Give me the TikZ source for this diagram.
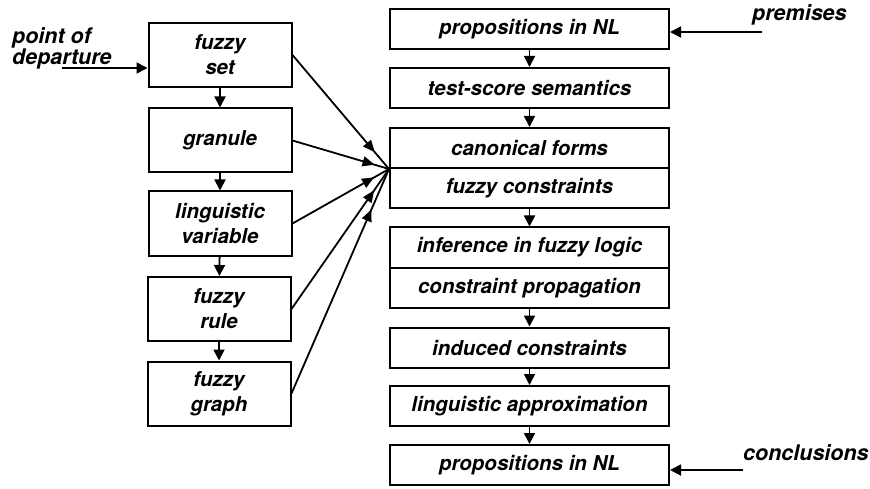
\documentclass[tikz,border=0pt]{standalone}
\usepackage{fontspec}
\setmainfont{TeX Gyre Heros}
\usetikzlibrary{arrows.meta,decorations.markings}
\tikzset{
 box/.style={draw,line width=2pt,inner sep=0pt,font=\bfseries\itshape\fontsize{20.5}{25}\selectfont,align=center},
 lbox/.style={box,minimum width=143pt,minimum height=64pt},
 rbox/.style={box,minimum width=279pt,minimum height=40pt},
 flow/.style={line width=1.8pt,-{Triangle[width=11pt,length=11pt]}},
 lab/.style={font=\bfseries\itshape\fontsize{21.5}{21}\selectfont,inner sep=0pt,align=left},
 tipat/.style={line width=1.8pt,postaction={decorate},decoration={markings,mark=at position #1 with {\arrow{Triangle[width=10pt,length=12pt]}}}}
}
\begin{document}
\begin{tikzpicture}[x=1pt,y=-1pt]
\useasboundingbox (0,0) rectangle (870,489);
% left column
\node[lbox] (fs) at (220,55) {fuzzy\\set};
\node[lbox] (gr) at (220,140.5) {granule};
\node[lbox] (lv) at (220,223.5) {linguistic\\variable};
\node[lbox] (fr) at (219,309) {fuzzy\\rule};
\node[lbox] (fg) at (219,393.5) {fuzzy\\graph};
% right column
\node[rbox] (p1) at (529.5,29) {propositions in NL};
\node[rbox] (ts) at (529.5,88) {test-score semantics};
\node[rbox] (cf) at (529.5,148) {canonical forms};
\node[rbox] (fc) at (529.5,188) {fuzzy constraints};
\node[rbox] (if) at (529.5,247.5) {inference in fuzzy logic};
\node[rbox] (cp) at (529.5,288) {constraint propagation};
\node[rbox] (ic) at (529.5,347.5) {induced constraints};
\node[rbox] (la) at (529.5,406) {linguistic approximation};
\node[rbox] (p2) at (529.5,465) {propositions in NL};
% labels
\node[lab,anchor=north west] (pdl) at (12,27) {point of\\departure};
\node[lab,anchor=base west] (prl) at (752,21) {premises};
\node[lab,anchor=base west] (col) at (743,460) {conclusions};
\coordinate (pd) at (62,68);
\coordinate (pr) at (762,32);
\coordinate (co) at (743,470);
\coordinate (conv) at (cf.south west);
% vertical flow
\draw[flow] (fs) -- (gr);
\draw[flow] (gr) -- (lv);
\draw[flow] (lv) -- (fr);
\draw[flow] (fr) -- (fg);
\draw[flow] (p1) -- (ts);
\draw[flow] (ts) -- (cf);
\draw[flow] (fc) -- (if);
\draw[flow] (cp) -- (ic);
\draw[flow] (ic) -- (la);
\draw[flow] (la) -- (p2);
% external arrows
\draw[flow] (pd) -- (fs.west |- pd);
\draw[flow] (pr) -- (p1.east |- pr);
\draw[flow] (co) -- (p2.east |- co);
% converging arrows
\draw[tipat=-22pt] (fs.east) -- (conv);
\draw[tipat=-15pt] (gr.east) -- (conv);
\draw[tipat=-17pt] (lv.east) -- (conv);
\draw[tipat=-26pt] (fr.east) -- (conv);
\draw[tipat=-44pt] (fg.east) -- (conv);
\end{tikzpicture}
\end{document}
